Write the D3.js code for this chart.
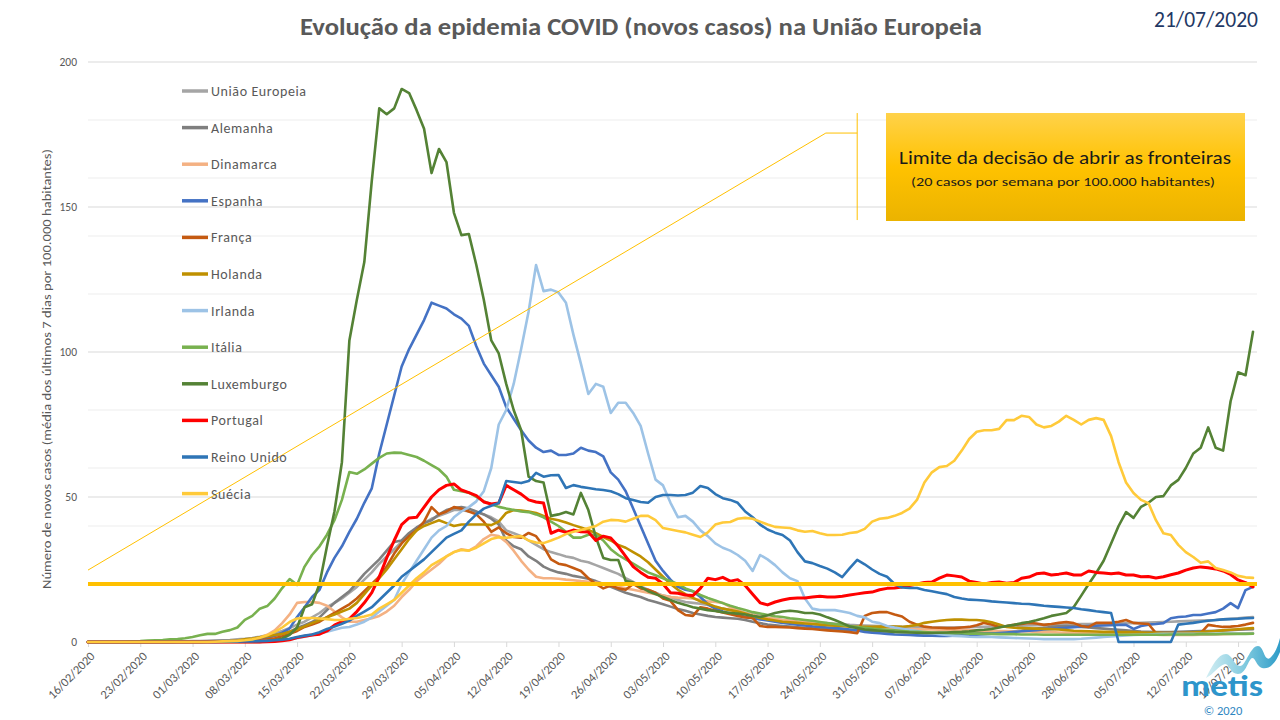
<!DOCTYPE html>
<html><head><meta charset="utf-8">
<script src="https://cdn.jsdelivr.net/npm/d3@7"></script>
<style>
body{margin:0;background:#fff;}
svg{display:block;font-family:Carlito,Lato,"Open Sans",sans-serif;}
</style></head><body>
<svg id="chart" width="1280" height="720"></svg>
<script>
// ---------- DATA ----------
const startDate = "2020-02-16";
const xTickLabels = ["16/02/2020","23/02/2020","01/03/2020","08/03/2020","15/03/2020","22/03/2020","29/03/2020","05/04/2020","12/04/2020","19/04/2020","26/04/2020","03/05/2020","10/05/2020","17/05/2020","24/05/2020","31/05/2020","07/06/2020","14/06/2020","21/06/2020","28/06/2020","05/07/2020","12/07/2020","19/07/2020"];
const yTickValues = [0,50,100,150,200];
const minorGridValues = [20,40,60,80,120,140,160,180];
const threshold = 20;
const seriesNames = ["União Europeia","Alemanha","Dinamarca","Espanha","França","Holanda","Irlanda","Itália","Luxemburgo","Portugal","Reino Unido","Suécia"];

const uniaoEuropeia = [0,0,0,0,0,0,0, 0,0,0.1,0.1,0.1,0.2,0.2, 0.3,0.3,0.4,0.5,0.6,0.7,0.9, 1.1,1.4,1.8,2.3,3,3.8,4.8, 6,7,8.5,10,12,13.5,15, 17,19,21.5,24,27,29.5,32, 34.5,37,39,41,42.5,43.5,44.5, 45.5,45.5,45,44.8,44,43,41.5, 38.5,37.5,36.5,35,33.5,32,31, 30.3,29.5,29,28,27.5,26.5,25.5, 24.5,23.5,22,20.7,19.2,18,17, 16,15.5,14.5,13.8,13.5,13.2,12.8, 12,11.5,11,10.5,10,9.5,9, 8.3,7.9,7.6,7.3,7,6.9,6.8, 6.6,6.5,6.3,6.1,5.9,5.8,5.7, 5.6,5.5,5.4,5.3,5.2,5.2,5.1, 5,5,5,5,5,5.1,5.1, 5.2,5.2,5.3,5.4,5.4,5.5,5.6, 5.7,5.8,5.9,6,6,6.1,6.1, 6.2,6.2,6.3,6.3,6.4,6.4,6.5, 6.5,6.6,6.7,6.8,6.9,7,7.1, 7.2,7.3,7.4,7.5,7.6,7.8,8, 8.2,8.4,8.6];
const alemanha = [0,0,0,0,0,0,0, 0,0,0,0,0,0.1,0.1, 0.1,0.2,0.2,0.3,0.4,0.5,0.6, 0.8,1,1.3,1.7,2.2,2.8,3.6, 4.8,5.8,6.9,8.5,11,13.5,15.5, 17.5,20.5,23.5,26,28.5,31.5,34.5, 35,37.6,39.5,41,42,44,45.5, 46.2,46.5,46,45,44,42.5,40.5, 35,33,32,29.5,28,26,24.8, 24,23.5,22.8,22.3,21.8,21,20, 19,18,17,16.2,15.5,14.5,13.8, 13,12.2,11.4,10.8,10,9.5,9, 8.6,8.4,8.2,8,7.6,7,6.5, 6,5.8,5.5,5.3,5.1,4.9,4.7, 4.6,4.5,4.3,4.2,4.1,4,3.9, 3.8,3.7,3.6,3.5,3.5,3.4,3.3, 3.3,3.2,3.2,3.1,3.1,3.1,3.1, 3.1,3.2,3.2,3.3,3.4,3.6,3.9, 4.3,4.6,4.9,5.2,5.4,5.5,5.4, 5.2,5,4.8,4.6,4.4,4.2,4, 3.8,3.6,3.5,3.4,3.4,3.4,3.5, 3.6,3.7,3.8,3.8,3.9,4,4.1, 4.2,4.3,4.4];
const dinamarca = [0,0,0,0,0,0,0, 0,0,0,0,0,0,0, 0,0,0.1,0.1,0.2,0.3,0.5, 0.8,1,1.5,2.5,4,6.5,9.5, 13.5,13.8,13.8,13.5,12.5,10.5,8.5, 7,7,7.6,8.2,9,10.5,12.5, 15.5,18,21,23,25,27,29.5, 31,32,31.5,33,35.5,37,36.5, 34.5,31.5,28,25,22.5,22,22, 21.8,21.5,21.3,21,20.8,20.5,20.2, 19.5,19,18.5,18,17.5,17,16.5, 16,15.5,15.3,15.2,15,14.5,14, 13.8,13.5,12,11,10,9.3,8.7, 8.3,8,7.6,7.3,7,6.8,6.5, 6.2,6,5.8,5.6,5.4,5.2,5, 4.9,4.8,4.7,4.6,4.5,4.5,4.4, 4.3,4.3,4.2,4.2,4.1,4.1,4, 4,3.9,3.9,3.8,3.8,3.7,3.6, 3.6,3.5,3.4,3.4,3.3,3.2,3.2, 3.1,3,3,2.9,2.8,2.8,2.7, 2.7,2.6,2.5,2.5,2.4,2.4,2.4, 2.4,2.4,2.5,2.5,2.6,2.7,2.8, 2.9,3,3.1];
const espanha = [0,0,0,0,0,0,0, 0,0,0,0,0,0.1,0.1, 0.1,0.1,0.1,0.2,0.2,0.3,0.4, 0.6,0.8,1.1,1.5,2.2,3.2,4.7, 8.6,12,15.5,18,24,29,33, 38,42.5,48,53,65,75,85, 95,101,106,111,117,116,115, 113,111.5,109,102,96,92,88, 81,77,73,69.5,67,65.5,66, 64.5,64.5,65,67,66,65.5,64, 58.5,56,52,46,40,34,28, 24.5,21.5,19,18,17.5,15.5,13, 11.5,10.5,9.8,9.2,8.7,8.2,7.8, 7.4,7,6.6,6.3,6,5.7,5.4, 5.2,5,4.8,4.6,4.3,4,3.5, 3.2,3,2.8,2.6,2.5,2.4,2.3, 2.2,2.2,2.1,2.1,2.2,2.3,2.4, 2.5,2.7,2.9,3.1,3.3,3.5,3.7, 3.9,4.1,4.3,4.5,4.7,4.9,5.1, 5.3,5.5,5.6,5.7,5.8,5.9,5.9, 4.5,5.5,6,6.2,6.5,8.2,8.6, 8.8,9.3,9.3,9.8,10.3,11.5,13.4, 11.7,17.9,19];
const franca = [0,0,0,0,0,0,0, 0,0,0,0,0,0,0, 0,0,0,0.1,0.1,0.2,0.2, 0.3,0.4,0.6,0.9,1.3,2,2.8, 3.8,5.2,6,7,8.6,10,11.5, 13,15,17.5,20,22.5,26,30.5, 34,36.5,38.5,41.5,46.5,44,45, 46.5,46,45,44,41.5,38,39.5, 37.5,36.2,36,37.6,36.5,33,28.5, 27,26.5,25.5,24.5,22,20,18.5, 19.5,18.5,18,20,18.5,18,17, 15,14.2,11,9.3,9,12,11.5, 10.8,10.2,9.6,9,8.5,8.3,5.5, 5.2,5.2,5.1,5,4.8,4.6,4.5, 4.2,4,3.8,3.6,3.4,3,9, 10,10.3,10.3,9.5,8.8,7,6, 5.3,5,4.9,4.8,4.8,5,5.2, 5.8,6.6,6,5.2,5.5,5.9,6.2, 6.6,6.4,5.9,6.2,6.6,6.9,6.5, 5.5,5.2,6.6,6.6,6.6,7,7.6, 6.6,6.4,6.2,3.1,3.1,3.1,3.1, 3.1,3.1,3.1,5.9,5.5,5.2,5.3, 5.5,6,6.6];
const holanda = [0,0,0,0,0,0,0, 0,0,0,0,0,0,0, 0,0,0.1,0.1,0.2,0.3,0.5, 0.9,1.2,1.6,2,2.4,2.8,3.5, 4.3,5.4,6.5,7.5,8.5,9.5,10.5, 11.5,13.5,16.5,19.5,22,25,28.5, 32,35.5,38.5,40,41,42,41, 40,40.5,40.5,40.5,40.5,40.3,41.5, 44.5,45.5,45.3,45,44.5,43.5,42.5, 42,41.2,40.3,39.5,38.6,37.5,36.2, 35,33.5,32.5,31,29.5,27.5,25, 22.5,20,18,16.5,15.2,14,13.2, 12.2,11.5,11,10.5,9.8,9,8.3, 7.8,7.4,7,6.8,6.6,6.4,6.2, 6,5.8,5.6,5.5,5.3,5.2,5.2, 5.2,5.3,5.4,5.3,5.2,5.5,5.9, 6.6,7,7.3,7.6,7.7,7.7,7.6, 7.6,7.3,6.8,6,5.2,4.9,4.8, 4.7,4.6,4.5,4.4,4.3,4.1,3.9, 3.8,3.7,3.6,3.5,3.5,3.4,3.4, 3.4,3.3,3.2,3.2,3.1,3.1,3.1, 3.2,3.3,3.4,3.6,3.8,4,4.2, 4.4,4.6,4.8];
const irlanda = [0,0,0,0,0,0,0, 0,0,0,0,0,0,0, 0,0,0,0,0,0.1,0.1, 0.1,0.2,0.2,0.3,0.4,0.6,0.9, 1.3,1.8,2.3,2.9,3.5,4.2,4.9, 5.2,6,7,8.5,10.5,12.5,14.5, 20,24,28,32,36,38.5,40, 43,45,46.5,48.5,52,60,75, 80,89,101,114,130,121,121.5, 120.5,117,106,96,85.5,89,88, 79,82.5,82.5,79,74.5,65,56, 54,48,43,43.5,41.5,38.5,36.5, 34,32.5,31.5,30,28,24.5,30, 28.5,26.5,24,22,21,15,11.5, 11,11,11,10.5,10,9,8.5, 7,6.5,5.5,5,4.6,4.2,3.8, 3.3,3,2.7,2.4,2.1,2,1.8, 1.7,1.7,1.7,1.6,1.5,1.4,1.3, 1.2,1.1,1,1,1,1,1, 1.1,1.3,1.5,1.7,1.9,2.1,2.3, 2.4,2.5,2.6,2.7,2.8,2.8,2.8, 2.8,2.8,2.8,2.8,2.8,2.9,2.9, 2.9,2.9,3];
const italia = [0,0,0,0,0,0.1,0.2, 0.3,0.5,0.6,0.7,0.9,1,1.3, 1.7,2.3,2.8,2.8,3.5,4.1,5, 7.6,9,11.5,12.4,15,18.6,21.7, 19.7,26,30,33,37,42,49, 58.6,58,59.5,61.5,63.5,65,65.3, 65.2,64.5,63.8,62.5,61,59.5,57, 52.5,52,51.5,50,48.5,47.5,46.6, 46,45.5,45,44.8,44,43,41.5, 40,38,36,36,37,37,35, 32,30,28.5,27,25.5,24,23, 22,21,20,18.5,17.5,16.2,15.2, 14.3,13.4,12.5,11.7,11,10.3,9.8, 9.3,8.9,8.6,8.2,7.9,7.6,7.3, 6.9,6.5,6.2,5.9,5.5,5.2,4.9, 4.6,4.4,4.2,4,3.8,3.6,3.5, 3.4,3.3,3.2,3.1,3,3,2.9, 2.9,2.8,2.8,2.7,2.7,2.7,2.6, 2.6,2.6,2.5,2.5,2.5,2.5,2.5, 2.5,2.5,2.5,2.5,2.5,2.5,2.5, 2.5,2.5,2.5,2.5,2.5,2.6,2.6, 2.6,2.6,2.7,2.7,2.7,2.8,2.8, 2.8,2.8,2.9];
const luxemburgo = [0,0,0,0,0,0,0, 0,0,0,0,0,0,0, 0,0,0,0,0,0,0, 0,0,0,0.3,0.6,1.2,2.5, 5,12,13,20,33,45,62, 104,118,131,159,184,182,184, 190.7,189.3,183.4,177,161.7,170,165.5, 148,140.3,140.7,130,118,104,99.5, 89,80,73,57,55.5,55,43.5, 44,44.8,44,51.4,45.5,36.2,29, 28.3,28.3,21,20.5,19,17.5,16.5, 15.5,14.5,13.5,12.8,12,11.5,11, 10.7,10.3,10,9.8,9.5,9,8.6, 9.2,10,10.5,10.8,10.5,10,10, 9.5,8.5,7.6,6.5,5.3,4.8,4.3, 4.1,3.9,3.7,3.5,3.4,3.3,3.2, 3.1,3.1,3.2,3.3,3.4,3.5,3.7, 4,4.2,4.5,5,5.5,5.9,6.5, 6.9,7.5,8.2,9,9.5,10,12.1, 16,20,23.8,28,34,40,44.8, 42.8,46.6,48,50,50.3,54,55.9, 60,65,67,74,67,66,83, 93,92,107];
const portugal = [0,0,0,0,0,0,0, 0,0,0,0,0,0,0, 0,0,0,0,0,0,0, 0,0,0,0.1,0.2,0.4,0.8, 1.5,2,2.4,2.7,3.8,5.8,7, 8,10.5,13.5,17,22.5,29,35, 40.5,42.8,43,46.5,50,52.5,54, 54.5,52.4,51.5,50.5,48.3,47.6,47.9, 54,52.5,51,49,48.3,47.9,37.5, 38.6,37.8,38.6,38,37.9,35,36.5, 35.9,33,29.5,26,24,22.3,22, 20,17,16.8,16.2,16,18.5,22, 21.5,22.3,21,21.5,19.5,16.5,13.5, 12.8,13.8,14.5,15,15.2,15.2,15.5, 15.8,15.5,15.5,15.8,16.2,16.6,17, 17.2,18,18.5,18.6,19,19.5,20, 20.5,20.7,22,23.1,22.8,22.4,21, 20.5,20,20.5,20.7,20.3,20.5,22, 22.4,23.5,23.8,23.1,23.4,23.8,23.1, 23.1,24.5,24,23.8,23.5,23.8,23.1, 23.1,22.5,22.6,22.1,22.5,23.2,23.8, 24.8,25.5,25.9,25.6,25.2,24.5,23.3, 21.4,20.5,19];
const reinoUnido = [0,0,0,0,0,0,0, 0,0,0,0,0,0,0, 0,0,0,0,0.1,0.1,0.1, 0.2,0.2,0.3,0.4,0.6,0.8,1.1, 1.7,2.2,2.6,3.4,4.5,5.3,6.3, 7.4,9,10.5,12,14.5,17,19.5, 22.5,24.5,26.5,28.5,31,33.5,36, 37.3,38.5,41.5,44,46,47,47.9, 55.5,55.2,54.8,55.5,58.3,57,57.5, 57.6,53.1,54.1,53.5,53.1,52.7,52.4, 52,51,49.6,49,48.3,48,50, 50.7,50.7,50.5,50.7,51.5,53.8,53.1, 51,49.6,49,48,45,43,40.5, 38.8,37.7,36.9,35,31,27.8,27.2, 26.2,25.3,24,22.4,25.5,28.3,26.8, 25,23.5,22.5,20,18.8,18.6,18.6, 17.9,17.5,17,16.5,15.5,15,14.6, 14.5,14.3,14,13.8,13.6,13.4,13.2, 13.1,12.8,12.5,12.3,12.1,11.9,11.7, 11.3,11,10.6,10.3,10,0,0, 0,0,0,0,0,0,6, 6.3,6.6,7,7.3,7.6,7.8,7.9, 8,8.2,8.3];
const suecia = [0,0,0,0,0,0,0, 0,0,0,0,0,0,0, 0,0,0,0.1,0.2,0.3,0.4, 0.6,0.9,1.5,2.3,3.5,5,6.9, 8.1,8.3,8.3,8.1,7.9,7.6,7.6, 8,8.3,8.8,9.5,11.5,13,14.5, 17,19.5,22,24,26.5,28,29.5, 31,31.7,31.5,32.5,34,35.5,36.1, 35.9,36.3,36.5,35,34.3,34.1,35, 36,37.2,38,38.6,39.3,40,41.5, 42.1,42,41.5,42.5,43.5,43.5,42, 39.3,38.8,38.3,37.8,37,36.2,37.8, 40.5,41.2,41.4,42.5,42.8,42.5,41.5, 40.5,39.7,39.5,39.3,38.5,38,38.3, 37.5,36.9,36.9,37,37.6,37.9,39, 41.5,42.5,42.8,43.5,44.5,46,49, 55,58.5,60.3,60.7,62.5,66,70, 72.5,73,73,73.5,76.5,76.5,78, 77.6,75,74,74.5,76,78,76.6, 75,76.6,77.2,76.6,71,62,55, 51.4,49,47.9,42,37.5,36.9,33.5, 31,29.3,27.3,27.8,25.5,24.8,24, 22.8,22.3,22.1];

const seriesValues = [uniaoEuropeia,alemanha,dinamarca,espanha,franca,holanda,irlanda,italia,luxemburgo,portugal,reinoUnido,suecia];
const seriesColors = ["#A5A5A5","#7F7F7F","#F4B183","#4472C4","#C55A11","#BF9000","#9DC3E6","#78B14F","#548235","#FF0000","#2E75B6","#FFCA3A"];

// annotation (callout line in data coordinates: day index, value)
const calloutPath = [[0,24.8],[98.8,175.5],[103,175.5]];
const calloutBracket = [[103,182.4],[103,145.5]];

// ---------- CHART ----------
const svg = d3.select("#chart");
const L = 88, R = 1253, GR = 1257, T = 62, B = 642;
const FONT = "Carlito,Lato,'Open Sans',sans-serif";
const parseISO = d3.timeParse("%Y-%m-%d");
const parseLbl = d3.timeParse("%d/%m/%Y");
const t0 = parseISO(startDate);
const n = uniaoEuropeia.length;
const dates = d3.range(n).map(i => d3.timeDay.offset(t0, i));
const x = d3.scaleTime().domain([dates[0], dates[n-1]]).range([L, R]);
const y = d3.scaleLinear().domain([0, 200]).range([B, T]);
const xd = d => x(dates[0]) + (x(dates[1]) - x(dates[0])) * d;

// gridlines
svg.append("g").selectAll("line").data(minorGridValues).join("line")
  .attr("x1", L).attr("x2", GR).attr("y1", d => y(d)).attr("y2", d => y(d))
  .attr("stroke", "#EDEDED").attr("stroke-width", 1);
svg.append("g").selectAll("line").data(yTickValues.filter(v => v > 0)).join("line")
  .attr("x1", L).attr("x2", GR).attr("y1", d => y(d)).attr("y2", d => y(d))
  .attr("stroke", "#D9D9D9").attr("stroke-width", 1);

// y axis labels
const yAxis = svg.append("g").attr("transform", `translate(${L},0)`)
  .call(d3.axisLeft(y).tickValues(yTickValues).tickSize(0).tickPadding(11));
yAxis.select(".domain").remove();
yAxis.selectAll("text").attr("font-size", 11.5).attr("fill", "#595959")
  .attr("font-family", FONT);

// x axis
const tickDates = xTickLabels.map(parseLbl);
const xAxis = svg.append("g").attr("transform", `translate(0,${B})`)
  .call(d3.axisBottom(x).tickValues(tickDates).tickSize(5).tickSizeOuter(0)
    .tickFormat((d, i) => xTickLabels[i]));
xAxis.select(".domain").remove();
xAxis.selectAll(".tick line").attr("stroke", "#D9D9D9");
xAxis.selectAll("text")
  .attr("font-size", 12.5).attr("fill", "#595959")
  .attr("font-family", FONT)
  .attr("text-anchor", "end").attr("x", 0).attr("y", 0).attr("dy", "0.35em")
  .attr("transform", "translate(4,12) rotate(-45)");
svg.append("line").attr("x1", L).attr("x2", GR).attr("y1", B).attr("y2", B)
  .attr("stroke", "#D9D9D9").attr("stroke-width", 1);

// series lines
const line = d3.line().x((d, i) => x(dates[i])).y(d => y(d)).curve(d3.curveLinear);
svg.append("g").selectAll("path").data(seriesValues).join("path")
  .attr("d", d => line(d))
  .attr("fill", "none")
  .attr("stroke", (d, i) => seriesColors[i])
  .attr("stroke-width", (d, i) => i === 9 ? 3 : 2.6)
  .attr("stroke-linejoin", "round").attr("stroke-linecap", "round");

// threshold line
svg.append("line").attr("x1", L).attr("x2", GR)
  .attr("y1", y(threshold)).attr("y2", y(threshold))
  .attr("stroke", "#FFC000").attr("stroke-width", 4);

// callout
const cl = d3.line().x(d => xd(d[0])).y(d => y(d[1]));
svg.append("path").attr("d", cl(calloutPath)).attr("fill", "none")
  .attr("stroke", "#FFC000").attr("stroke-width", 1);
svg.append("path").attr("d", cl(calloutBracket)).attr("fill", "none")
  .attr("stroke", "#FFC000").attr("stroke-width", 1);

// annotation box
const defs = svg.append("defs");
const g1 = defs.append("linearGradient").attr("id", "boxg").attr("x1", 0).attr("x2", 0).attr("y1", 0).attr("y2", 1);
g1.append("stop").attr("offset", "0%").attr("stop-color", "#FFD24A");
g1.append("stop").attr("offset", "50%").attr("stop-color", "#FFC200");
g1.append("stop").attr("offset", "100%").attr("stop-color", "#EBB300");
svg.append("rect").attr("x", 886).attr("y", 113).attr("width", 359).attr("height", 108)
  .attr("fill", "url(#boxg)");
svg.append("text").attr("x", 1065).attr("y", 164).attr("text-anchor", "middle")
  .attr("font-family", FONT).attr("font-weight", 400)
  .attr("font-size", 18).attr("fill", "#1a1a1a")
  .attr("textLength", 332).attr("lengthAdjust", "spacingAndGlyphs")
  .text("Limite da decisão de abrir as fronteiras");
svg.append("text").attr("x", 1063).attr("y", 186).attr("text-anchor", "middle")
  .attr("font-family", FONT).attr("font-weight", 400)
  .attr("font-size", 13).attr("fill", "#1a1a1a")
  .attr("textLength", 304).attr("lengthAdjust", "spacingAndGlyphs")
  .text("(20 casos por semana por 100.000 habitantes)");

// legend
const lg = svg.append("g").selectAll("g").data(seriesNames).join("g")
  .attr("transform", (d, i) => `translate(0,${91 + i * 36.6})`);
lg.append("line").attr("x1", 182).attr("x2", 208).attr("y1", 0).attr("y2", 0)
  .attr("stroke", (d, i) => seriesColors[i]).attr("stroke-width", 3.5);
lg.append("text").attr("x", 211).attr("y", 0).attr("dy", "0.35em")
  .attr("font-family", FONT)
  .attr("font-size", 14).attr("fill", "#595959").attr("letter-spacing", 0.6)
  .text(d => d);

// title
svg.append("text").attr("x", 641).attr("y", 35).attr("text-anchor", "middle")
  .attr("font-family", FONT)
  .attr("font-size", 24).attr("font-weight", "bold").attr("fill", "#595959")
  .attr("textLength", 682).attr("lengthAdjust", "spacingAndGlyphs")
  .text("Evolução da epidemia COVID (novos casos) na União Europeia");
svg.append("text").attr("x", 1258).attr("y", 27).attr("text-anchor", "end")
  .attr("font-family", FONT)
  .attr("font-size", 22).attr("fill", "#1F3864")
  .attr("textLength", 104).attr("lengthAdjust", "spacingAndGlyphs")
  .text("21/07/2020");

// y axis title
svg.append("text").attr("transform", "translate(51,369) rotate(-90)")
  .attr("font-family", FONT)
  .attr("text-anchor", "middle").attr("font-size", 12.5).attr("fill", "#595959")
  .attr("textLength", 440).attr("lengthAdjust", "spacingAndGlyphs")
  .text("Número de novos casos (média dos últimos 7 dias por 100.000 habitantes)");

// logo
const g2 = defs.append("linearGradient").attr("id", "wavg").attr("x1", 0).attr("x2", 1).attr("y1", 0).attr("y2", 0);
g2.append("stop").attr("offset", "0%").attr("stop-color", "#D3EEF3");
g2.append("stop").attr("offset", "55%").attr("stop-color", "#7CC8DE");
g2.append("stop").attr("offset", "100%").attr("stop-color", "#2E9CC8");
svg.append("path").attr("fill", "url(#wavg)")
  .attr("d", "M1206,678 C1212,666 1218,654 1226,654 C1232,654 1234,666 1240,666 C1246,666 1250,646 1258,646 C1264,646 1264,662 1270,658 C1275,654 1278,646 1280,638 L1280,652 C1276,662 1270,670 1262,668 C1256,666 1256,658 1252,658 C1248,660 1246,674 1238,674 C1230,674 1230,664 1225,664 C1218,666 1214,674 1206,678 Z");
svg.append("text").attr("x", 1181).attr("y", 696)
  .attr("font-family", FONT)
  .attr("font-size", 31).attr("font-weight", "bold").attr("fill", "#2D95CB")
  .attr("textLength", 82).attr("lengthAdjust", "spacingAndGlyphs")
  .text("metis");
svg.append("text").attr("x", 1223).attr("y", 715).attr("text-anchor", "middle")
  .attr("font-family", FONT)
  .attr("font-size", 12.5).attr("fill", "#2E86C1")
  .text("© 2020");
</script>
</body></html>
